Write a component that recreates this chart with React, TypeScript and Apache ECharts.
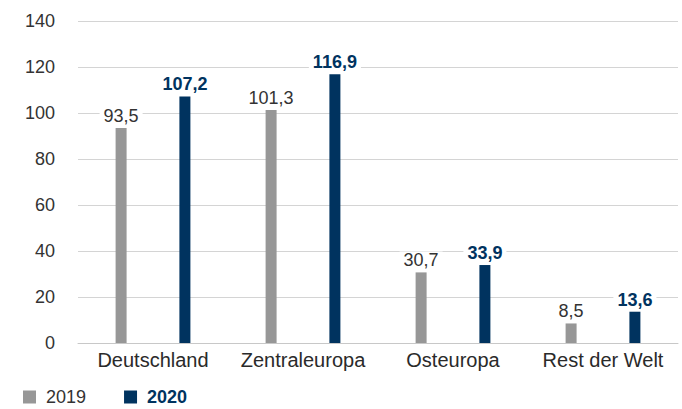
import React, { useEffect, useRef } from "react";
import * as echarts from "echarts";

const categories = ["Deutschland", "Zentraleuropa", "Osteuropa", "Rest der Welt"];
const values2019 = [93.5, 101.3, 30.7, 8.5];
const values2020 = [107.2, 116.9, 33.9, 13.6];
const yTicks = { min: 0, max: 140, interval: 20 };

const GRAY = "#979797";
const NAVY = "#00335f";
const FONT = "Liberation Sans";

const fmt = (v: number) => v.toFixed(1).replace(".", ",");

export default function App() {
  const ref = useRef<HTMLDivElement>(null);
  useEffect(() => {
    if (!ref.current) return;
    const chart = echarts.init(ref.current, null, { renderer: "svg" });
    chart.setOption({
      animation: false,
      textStyle: { fontFamily: FONT },
      grid: { left: 78, right: 4, top: 21, bottom: 66, containLabel: false },
      legend: {
        left: 23,
        top: 388,
        padding: 0,
        itemWidth: 13,
        itemHeight: 13,
        itemGap: 38,
        icon: "rect",
        textStyle: { fontFamily: FONT, fontSize: 18, lineHeight: 15, color: "#333", padding: [0, 0, 0, 5] },
        data: [
          { name: "2019", itemStyle: { color: GRAY } },
          {
            name: "2020",
            itemStyle: { color: NAVY },
            textStyle: { fontWeight: "bold", color: NAVY, fontSize: 18, lineHeight: 15, padding: [0, 0, 0, 5] },
          },
        ],
      },
      xAxis: {
        type: "category",
        data: categories,
        axisLine: { lineStyle: { color: "#c8c8c8", width: 1 } },
        axisTick: { show: false },
        axisLabel: { fontSize: 20, color: "#2a2a2a", margin: 7, fontFamily: FONT, interval: 0 },
      },
      yAxis: {
        type: "value",
        min: yTicks.min,
        max: yTicks.max,
        interval: yTicks.interval,
        axisLine: { show: false },
        axisTick: { show: false },
        splitLine: { lineStyle: { color: "#d4d4d4", width: 1 } },
        axisLabel: { fontSize: 18, color: "#333", margin: 23, fontFamily: FONT },
      },
      series: [
        {
          name: "2019",
          type: "bar",
          data: values2019,
          barWidth: 11,
          barGap: "480%",
          itemStyle: { color: GRAY },
          label: {
            show: true,
            position: "top",
            distance: 3,
            formatter: (p: any) => fmt(p.value),
            fontSize: 18,
            color: "#333",
            fontFamily: FONT,
            backgroundColor: "#fff",
            padding: [0, 4],
          },
        },
        {
          name: "2020",
          type: "bar",
          data: values2020,
          barWidth: 11,
          itemStyle: { color: NAVY },
          label: {
            show: true,
            position: "top",
            distance: 3,
            formatter: (p: any) => fmt(p.value),
            fontSize: 18,
            fontWeight: "bold",
            color: NAVY,
            fontFamily: FONT,
            backgroundColor: "#fff",
            padding: [0, 4],
          },
        },
      ],
    });
    return () => chart.dispose();
  }, []);
  return <div ref={ref} style={{ width: 682, height: 409, position: "absolute", left: 0, top: 0 }} />;
}
